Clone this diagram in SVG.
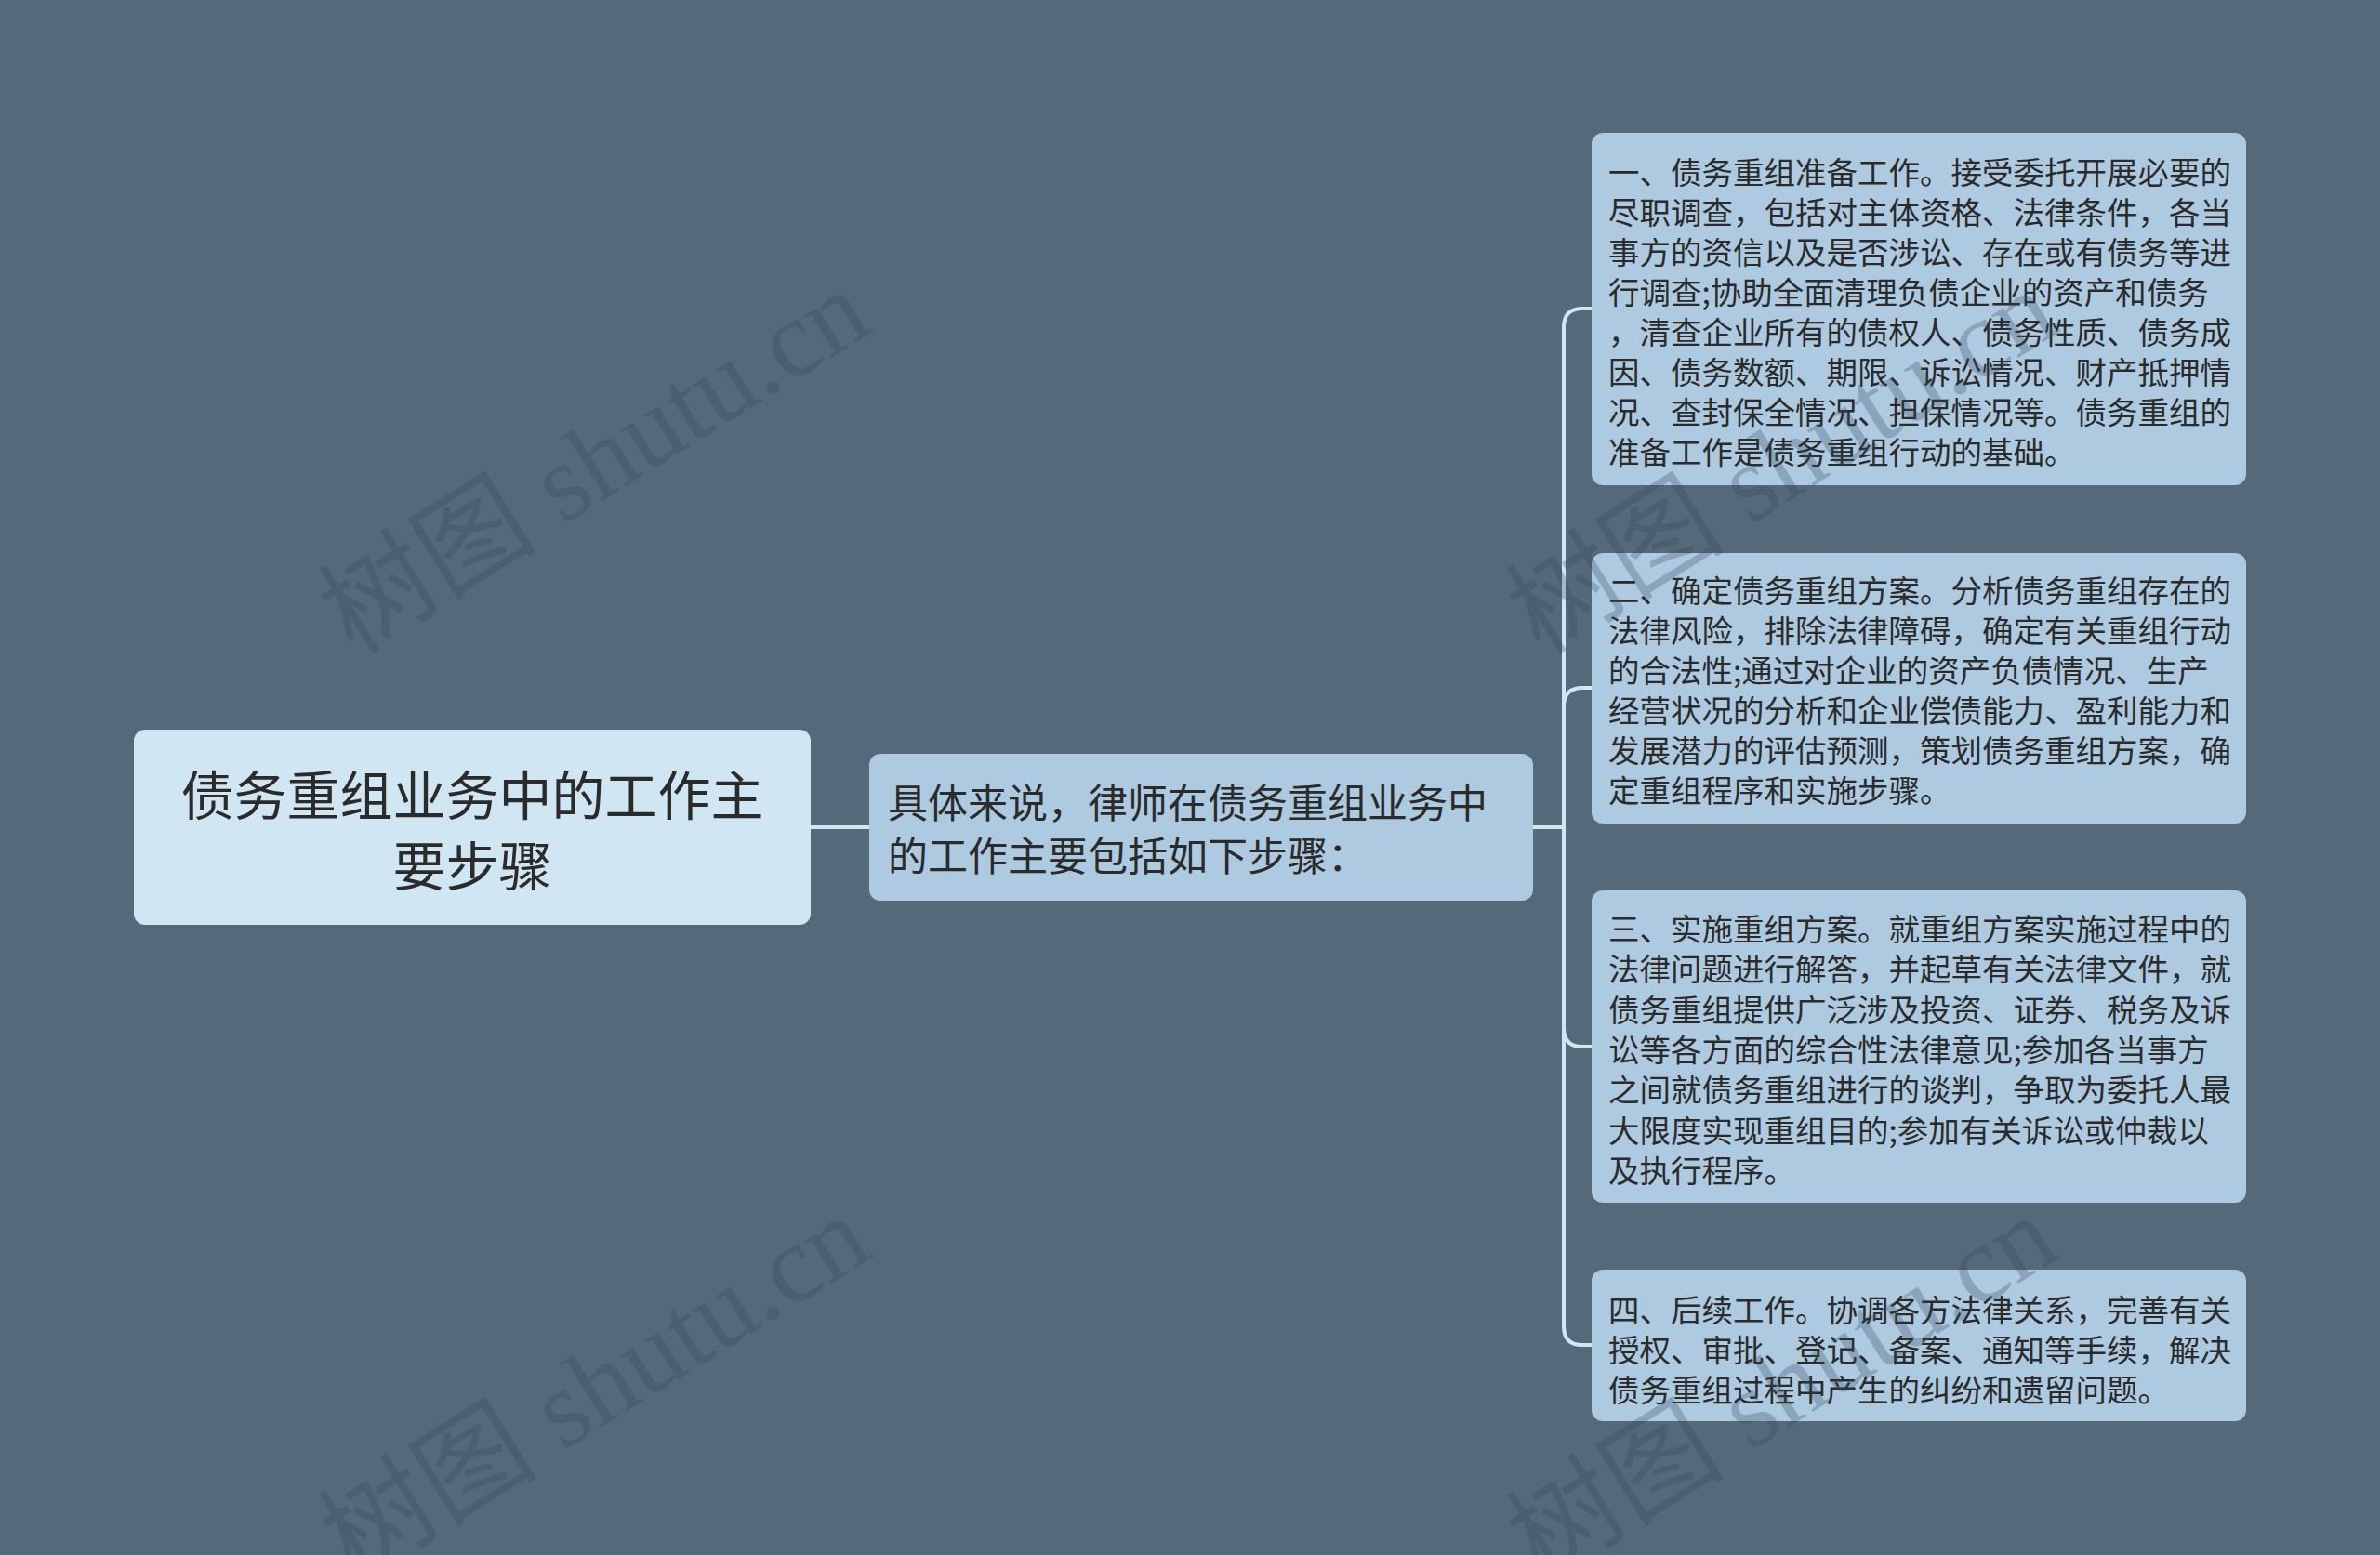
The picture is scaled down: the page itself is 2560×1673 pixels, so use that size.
<svg xmlns="http://www.w3.org/2000/svg" width="2560" height="1673" viewBox="0 0 2560 1673">
<style>
.bg{fill:#546a7a}
.root{fill:#d0e6f3}
.box{fill:#adcae1}
.t{font-family:"Noto Sans CJK SC","Noto Sans",sans-serif;fill:#2b2b2b}
.leaf{font-size:33.5px}
.con{fill:none;stroke:#d0e6f3;stroke-width:4}
.wm{font-family:"Liberation Serif","Noto Sans CJK SC",serif;font-size:118px;fill:#33485a;opacity:0.28}
</style>
<rect class="bg" x="0" y="0" width="2560" height="1673"/>
<g id="connectors">
<path class="con" d="M872,890 H935"/>
<path class="con" d="M1649,890 H1682"/>
<path class="con" d="M1682,890 V352 Q1682,332 1702,332 H1712"/>
<path class="con" d="M1682,890 V760 Q1682,740 1702,740 H1712"/>
<path class="con" d="M1682,890 V1106 Q1682,1126 1702,1126 H1712"/>
<path class="con" d="M1682,890 V1427 Q1682,1447 1702,1447 H1712"/>
</g>
<g id="root">
<rect class="root" x="144" y="785" width="728" height="210" rx="12"/>
<text class="t" font-size="57" text-anchor="middle"><tspan x="508" y="877">债务重组业务中的工作主</tspan><tspan x="508" y="953">要步骤</tspan></text>
</g>
<g id="node-main">
<rect class="box" x="935" y="811" width="714" height="158" rx="12"/>
<text class="t" font-size="43"><tspan x="955" y="880">具体来说，律师在债务重组业务中</tspan><tspan x="955" y="937">的工作主要包括如下步骤：</tspan></text>
</g>
<g id="step1">
<rect class="box" x="1712" y="143" width="704" height="379" rx="12"/>
<text class="t leaf">
<tspan x="1730" y="198">一、债务重组准备工作。接受委托开展必要的</tspan>
<tspan x="1730" y="241">尽职调查，包括对主体资格、法律条件，各当</tspan>
<tspan x="1730" y="284">事方的资信以及是否涉讼、存在或有债务等进</tspan>
<tspan x="1730" y="327">行调查;协助全面清理负债企业的资产和债务</tspan>
<tspan x="1730" y="370">，清查企业所有的债权人、债务性质、债务成</tspan>
<tspan x="1730" y="413">因、债务数额、期限、诉讼情况、财产抵押情</tspan>
<tspan x="1730" y="456">况、查封保全情况、担保情况等。债务重组的</tspan>
<tspan x="1730" y="499">准备工作是债务重组行动的基础。</tspan>
</text>
</g>
<g id="step2">
<rect class="box" x="1712" y="595" width="704" height="291" rx="12"/>
<text class="t leaf">
<tspan x="1730" y="648">二、确定债务重组方案。分析债务重组存在的</tspan>
<tspan x="1730" y="691">法律风险，排除法律障碍，确定有关重组行动</tspan>
<tspan x="1730" y="734">的合法性;通过对企业的资产负债情况、生产</tspan>
<tspan x="1730" y="777">经营状况的分析和企业偿债能力、盈利能力和</tspan>
<tspan x="1730" y="820">发展潜力的评估预测，策划债务重组方案，确</tspan>
<tspan x="1730" y="863">定重组程序和实施步骤。</tspan>
</text>
</g>
<g id="step3">
<rect class="box" x="1712" y="958" width="704" height="336" rx="12"/>
<text class="t leaf">
<tspan x="1730" y="1012">三、实施重组方案。就重组方案实施过程中的</tspan>
<tspan x="1730" y="1055">法律问题进行解答，并起草有关法律文件，就</tspan>
<tspan x="1730" y="1099">债务重组提供广泛涉及投资、证券、税务及诉</tspan>
<tspan x="1730" y="1142">讼等各方面的综合性法律意见;参加各当事方</tspan>
<tspan x="1730" y="1185">之间就债务重组进行的谈判，争取为委托人最</tspan>
<tspan x="1730" y="1229">大限度实现重组目的;参加有关诉讼或仲裁以</tspan>
<tspan x="1730" y="1272">及执行程序。</tspan>
</text>
</g>
<g id="step4">
<rect class="box" x="1712" y="1366" width="704" height="163" rx="12"/>
<text class="t leaf">
<tspan x="1730" y="1422">四、后续工作。协调各方法律关系，完善有关</tspan>
<tspan x="1730" y="1465">授权、审批、登记、备案、通知等手续，解决</tspan>
<tspan x="1730" y="1508">债务重组过程中产生的纠纷和遗留问题。</tspan>
</text>
</g>
<g id="watermarks">
<text class="wm" transform="translate(380,706) rotate(-32)">树图 shutu.cn</text>
<text class="wm" transform="translate(380,1702) rotate(-32)">树图 shutu.cn</text>
<text class="wm" transform="translate(1657,706) rotate(-32)">树图 shutu.cn</text>
<text class="wm" transform="translate(1657,1702) rotate(-32)">树图 shutu.cn</text>
</g>
</svg>
